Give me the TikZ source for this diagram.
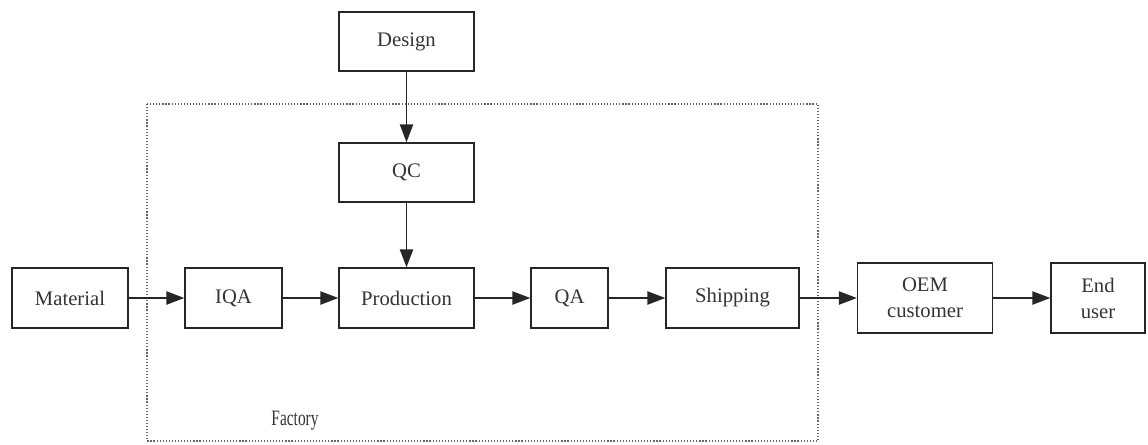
\documentclass[tikz,border=0pt]{standalone}
\usepackage{fontspec}
\setmainfont{Liberation Serif}
\usetikzlibrary{arrows.meta}
\begin{document}
\begin{tikzpicture}[x=0.75pt,y=-0.75pt,
  box/.style={draw=black!85,line width=1.1pt,minimum height=45pt,inner sep=0pt,align=center,
    text=black!80,font=\fontsize{15.5}{19.5}\selectfont},
  conn/.style={draw=black!85,line width=1.1pt,-{Triangle[length=13.5pt,width=10pt]}},
  factoryline/.style={draw=black!60,line width=1pt,dash pattern=on 0.9pt off 1.4pt}]
\useasboundingbox (0,0) rectangle (1148,444);
\draw[factoryline] (147,104) rectangle (818,441);
\node[text=black!80,font=\fontsize{16.5}{19.5}\selectfont] (factory) at (295,421) {\scalebox{0.7}[1]{Factory}};
\node[box,minimum width=87pt] (material) at (70,298) {Material};
\node[box,minimum width=72.75pt] (iqa) at (233.5,298) {IQA};
\node[box,minimum width=101.25pt] (production) at (406.5,298) {Production};
\node[box,minimum width=57.75pt] (qa) at (569.5,298) {QA};
\node[box,minimum width=99.75pt] (shipping) at (732.5,298) {Shipping};
\node[box,minimum width=101.25pt,minimum height=52.5pt] (oem) at (925,298) {OEM\\customer};
\node[box,minimum width=70.5pt,minimum height=52.5pt] (end) at (1098,298) {End\\user};
\node[box,minimum width=101.25pt,minimum height=44.25pt] (design) at (406.5,41.5) {Design};
\node[box,minimum width=101.25pt,minimum height=44.25pt] (qc) at (406.5,172.5) {QC};
\draw[conn] (material) -- (iqa);
\draw[conn] (iqa) -- (production);
\draw[conn] (production) -- (qa);
\draw[conn] (qa) -- (shipping);
\draw[conn] (shipping) -- (oem);
\draw[conn] (oem) -- (end);
\draw[conn] (design) -- (qc);
\draw[conn] (qc) -- (production);
\end{tikzpicture}
\end{document}
